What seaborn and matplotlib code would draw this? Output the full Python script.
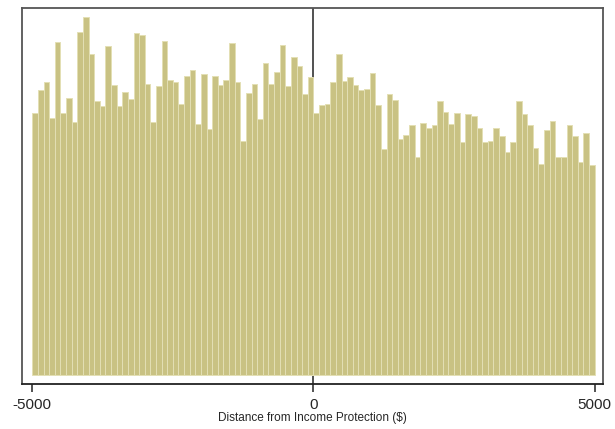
import numpy as np
import pandas as pd
import matplotlib
matplotlib.use("Agg")
import matplotlib.pyplot as plt
import seaborn as sns

# Histogram data: 100 bins of width 100 from -5000 to 5000 (heights)
bin_edges = list(range(-5000, 5001, 100))
heights = [262, 285, 293, 257, 333, 262, 277, 253, 343, 358,
           321, 274, 269, 329, 290, 269, 283, 276, 342, 340,
           291, 253, 289, 334, 295, 293, 271, 299, 305, 251,
           301, 246, 299, 290, 295, 332, 293, 234, 282, 291,
           256, 312, 291, 303, 330, 289, 318, 309, 281, 298,
           262, 270, 271, 293, 321, 294, 298, 290, 285, 286,
           302, 270, 226, 281, 275, 236, 240, 250, 218, 252,
           247, 250, 274, 263, 251, 262, 233, 261, 259, 247,
           233, 234, 247, 239, 223, 233, 274, 261, 250, 227,
           211, 245, 254, 218, 218, 250, 239, 213, 242, 210]
tick_values = [-5000, 0, 5000]
tick_labels = ["-5000", "0", "5000"]
x_label = "Distance from Income Protection ($)"

centers = [(a + b) / 2 for a, b in zip(bin_edges[:-1], bin_edges[1:])]
df = pd.DataFrame({"distance": centers, "weight": heights})

sns.set_style("white")
plt.rcParams["font.family"] = ["Liberation Sans", "DejaVu Sans"]

fig = plt.figure(figsize=(6.15, 4.29), dpi=100)
ax = fig.add_axes([22 / 615, 1 - 384 / 429, (603 - 22) / 615, (384 - 8) / 429])

ax.axvline(0, color="#333333", linewidth=1.2, zorder=0)
sns.histplot(data=df, x="distance", weights="weight", bins=bin_edges,
             stat="count", color="#C9C283", edgecolor="#E3DFB4",
             linewidth=0.7, alpha=1.0, ax=ax, zorder=2)

ax.set_xlim(-5183, 5149)
ax.set_ylim(-9, 367)
ax.set_yticks([])
ax.set_ylabel("")
ax.set_xticks(tick_values)
ax.set_xticklabels(tick_labels, fontsize=11)
ax.tick_params(axis="x", direction="out", length=6, width=1.2, color="#333333",
               pad=4, bottom=True)
ax.set_xlabel(x_label, fontsize=8.5, labelpad=0)

for side in ["left", "right", "top", "bottom"]:
    ax.spines[side].set_visible(True)
    ax.spines[side].set_color("#555555")
    ax.spines[side].set_linewidth(1.3)
ax.spines["bottom"].set_color("#222222")

fig.savefig("out.png", dpi=100)
